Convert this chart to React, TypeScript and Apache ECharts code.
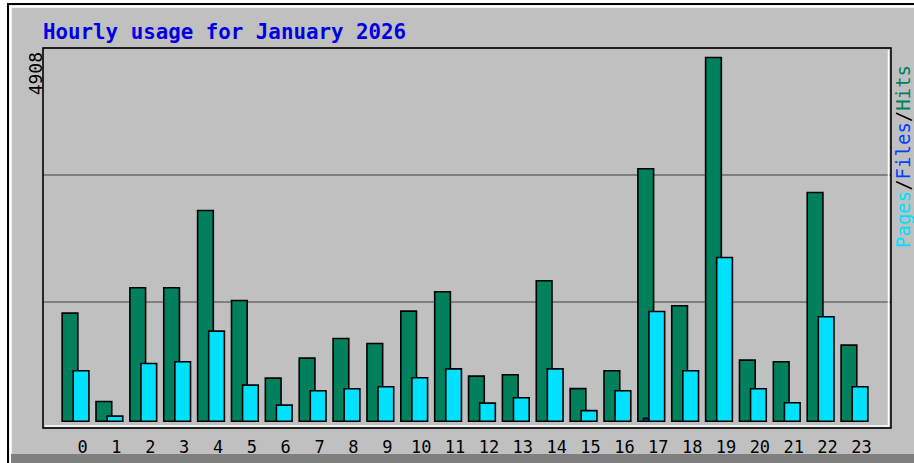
import React, { useEffect, useRef } from "react";
import * as echarts from "echarts";

const TITLE = "Hourly usage for January 2026";
const HOURS = ["0","1","2","3","4","5","6","7","8","9","10","11","12","13","14","15","16","17","18","19","20","21","22","23"];
const HITS = [1474, 286, 1814, 1814, 2852, 1643, 600, 869, 1133, 1066, 1500, 1760, 627, 645, 1908, 459, 699, 3413, 1572, 4908, 842, 820, 3094, 1044];
const FILES = [0, 0, 0, 0, 0, 0, 0, 0, 0, 0, 0, 0, 0, 0, 0, 0, 0, 60, 0, 0, 0, 0, 0, 0];
const PAGES = [699, 90, 797, 820, 1232, 506, 237, 430, 457, 484, 605, 725, 264, 336, 725, 164, 430, 1496, 699, 2221, 457, 269, 1424, 484];

const MONO = '"DejaVu Sans Mono", "Liberation Mono", monospace';
const HIT_C = "#00805c";
const FILE_C = "#0040ff";
const PAGE_C = "#00e0ff";

export default function App() {
  const ref = useRef<HTMLDivElement>(null);
  useEffect(() => {
    if (!ref.current) return;
    const chart = echarts.init(ref.current, undefined, { renderer: "svg" });
    const maxHits = Math.max(...HITS);
    const barStyle = (c: string) => ({ color: c, borderColor: "#000", borderWidth: 1.6 });
    chart.setOption({
      animation: false,
      backgroundColor: "#ffffff",
      grid: [
        { left: 58.6, right: 42.6, top: 56.7, bottom: 41 },
        { left: 43, right: 23, top: 48, bottom: 35, show: true, backgroundColor: "transparent", borderColor: "#000", borderWidth: 1.6, z: 1 },
      ],
      xAxis: [
        {
          type: "category", gridIndex: 0, data: HOURS,
          axisLine: { show: false }, axisTick: { show: false },
          axisLabel: { color: "#000", fontFamily: MONO, fontSize: 17, margin: 16, padding: [0, 0, 0, 14], interval: 0 },
        },
        { type: "value", gridIndex: 1, show: false, min: 0, max: 1 },
      ],
      yAxis: [
        { type: "value", gridIndex: 0, min: 0, max: maxHits, show: false, splitLine: { show: false } },
        {
          type: "value", gridIndex: 1, min: 0, max: 3, interval: 1,
          axisLine: { show: false }, axisTick: { show: false }, axisLabel: { show: false },
          splitLine: { show: true, lineStyle: { color: "#808080", width: 1.8 } },
        },
      ],
      series: [
        { name: "Hits", type: "bar", xAxisIndex: 0, yAxisIndex: 0, data: HITS, barWidth: 17.3, barGap: "-68%", itemStyle: barStyle(HIT_C), z: 3 },
        { name: "Files", type: "bar", xAxisIndex: 0, yAxisIndex: 0, data: FILES.map((v) => (v > 0 ? v : null)), barWidth: 17.3, barGap: "-68%", itemStyle: barStyle(FILE_C), z: 4 },
        { name: "Pages", type: "bar", xAxisIndex: 0, yAxisIndex: 0, data: PAGES, barWidth: 17.3, barGap: "-68%", itemStyle: barStyle(PAGE_C), z: 5 },
      ],
      graphic: [
        { type: "rect", z: -10, shape: { x: 8, y: 4, width: 930, height: 480 }, style: { fill: "#c0c0c0", stroke: "#000", lineWidth: 2 } },
        { type: "polyline", z: -9, shape: { points: [[10.5, 470], [10.5, 6.5], [914, 6.5]] }, style: { stroke: "#ffffff", lineWidth: 2.5, fill: null } },
        { type: "rect", z: -9, shape: { x: 11, y: 454, width: 903, height: 9 }, style: { fill: "#7f7f7f" } },
        { type: "polyline", z: 10, shape: { points: [[45, 426], [888.5, 426], [888.5, 50]] }, style: { stroke: "#ffffff", lineWidth: 1.5, fill: null } },
        {
          type: "text", x: 43, y: 31.5, z: 10,
          style: { text: TITLE, fill: "#0000e0", font: `bold 20.8px ${MONO}`, align: "left", verticalAlign: "middle", textAlign: "left", textVerticalAlign: "middle" },
        },
        {
          type: "text", x: 35, y: 52, rotation: Math.PI / 2, z: 10,
          style: { text: String(maxHits), fill: "#000", font: `18px ${MONO}`, align: "right", verticalAlign: "middle", textAlign: "right", textVerticalAlign: "middle" },
        },
        {
          type: "text", x: 903, y: 248, rotation: Math.PI / 2, z: 10,
          style: {
            text: "{p|Pages}{s|/}{f|Files}{s|/}{h|Hits}",
            font: `19px ${MONO}`,
            align: "left", verticalAlign: "middle", textAlign: "left", textVerticalAlign: "middle",
            rich: {
              p: { fill: PAGE_C, color: PAGE_C, fontFamily: MONO, fontSize: 19, lineHeight: 18 },
              s: { fill: "#000", color: "#000", fontFamily: MONO, fontSize: 19, lineHeight: 18 },
              f: { fill: FILE_C, color: FILE_C, fontFamily: MONO, fontSize: 19, lineHeight: 18 },
              h: { fill: HIT_C, color: HIT_C, fontFamily: MONO, fontSize: 19, lineHeight: 18 },
            },
          },
        },
      ],
    });
    return () => chart.dispose();
  }, []);
  return <div ref={ref} style={{ position: "absolute", left: 0, top: 0, width: 914, height: 463 }} />;
}
